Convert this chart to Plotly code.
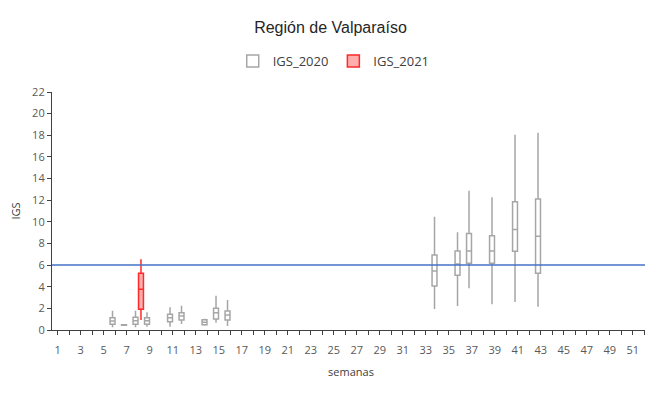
import plotly.graph_objects as go

# ---- data ----
weeks_2020 = [6, 7, 8, 9, 11, 12, 14, 15, 16, 34, 36, 37, 39, 41, 43]
low_2020 = [0.25, 0.42, 0.25, 0.31, 0.31, 0.55, 0.40, 0.68, 0.37, 1.94, 2.22, 3.85, 2.37, 2.59, 2.16]
q1_2020 = [0.53, 0.44, 0.53, 0.53, 0.77, 0.92, 0.48, 1.02, 0.92, 4.07, 5.05, 6.16, 6.16, 7.27, 5.24]
med_2020 = [0.83, 0.46, 0.86, 0.86, 1.14, 1.29, 0.72, 1.60, 1.39, 5.45, 6.10, 7.30, 7.30, 9.30, 8.66]
q3_2020 = [1.14, 0.48, 1.17, 1.14, 1.45, 1.60, 0.95, 2.00, 1.76, 6.93, 7.30, 8.93, 8.72, 11.86, 12.10]
high_2020 = [1.78, 0.50, 1.78, 1.63, 2.10, 2.25, 1.05, 3.17, 2.77, 10.47, 9.03, 12.87, 12.26, 18.05, 18.24]

weeks_2021 = [8]
low_2021 = [0.92]
q1_2021 = [1.91]
med_2021 = [3.76]
q3_2021 = [5.24]
high_2021 = [6.53]

umbral = 6
all_weeks = list(range(1, 53))
tick_labels = [str(w) if w % 2 == 1 else "" for w in all_weeks]

FONT = "Open Sans"

fig = go.Figure()
fig.add_trace(go.Box(
    name="IGS_2020", x=weeks_2020,
    lowerfence=low_2020, q1=q1_2020, median=med_2020, q3=q3_2020, upperfence=high_2020,
    fillcolor="white", line=dict(color="#a6a6a6", width=1.5), whiskerwidth=0,
))
fig.add_trace(go.Box(
    name="IGS_2021", x=weeks_2021,
    lowerfence=low_2021, q1=q1_2021, median=med_2021, q3=q3_2021, upperfence=high_2021,
    fillcolor="rgba(255,120,120,0.6)", line=dict(color="#ff2a2a", width=1.5), whiskerwidth=0,
))

fig.add_hline(y=umbral, line=dict(color="#4472c4", width=1.5))

# page body has an 8px margin, so the figure is sized to fit inside the window
fig.update_layout(
    width=645, height=396,
    margin=dict(l=44, r=3, t=84, b=74),
    paper_bgcolor="white", plot_bgcolor="white",
    boxmode="group", boxgap=0.05, boxgroupgap=0.1,
    title=dict(text="Región de Valparaíso", x=0.5, xanchor="center", y=0.95, yanchor="middle",
               font=dict(family="Liberation Sans", size=16, color="#262626")),
    legend=dict(orientation="h", xref="container", x=0.505, xanchor="center",
                yref="container", y=0.866, yanchor="middle",
                font=dict(family=FONT, size=13, color="#404040"), itemwidth=30),
    font=dict(family=FONT, size=11, color="#595959"),
    xaxis=dict(
        range=[0.5, 52.5], tickmode="array", tickvals=all_weeks, ticktext=tick_labels,
        ticks="outside", ticklen=4, tickcolor="#404040", showgrid=False, zeroline=False,
        showline=True, linecolor="#404040", linewidth=1.2, ticklabelstandoff=6,
        title=dict(text="semanas", font=dict(family=FONT, size=11, color="#404040"), standoff=12),
        tickfont=dict(family=FONT, size=11, color="#595959"),
    ),
    yaxis=dict(
        range=[0, 22], dtick=2, ticks="outside", ticklen=4, tickcolor="#404040",
        showgrid=False, zeroline=False, showline=True, linecolor="#404040", linewidth=1.2,
        title=dict(text="IGS", font=dict(family=FONT, size=11, color="#404040"), standoff=12),
        tickfont=dict(family=FONT, size=11, color="#595959"),
    ),
)

fig.write_html("out.html")
